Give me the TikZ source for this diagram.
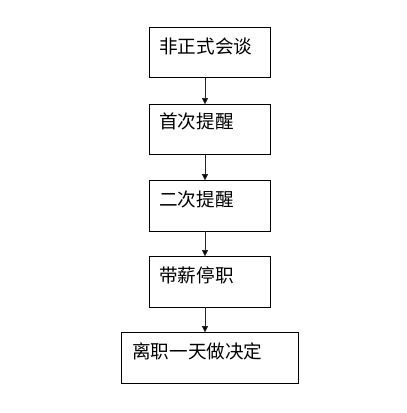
\documentclass[tikz,border=0pt]{standalone}
\usepackage{fontspec}
\newfontfamily\cjk{Noto Sans CJK SC}
\usetikzlibrary{arrows.meta}
\begin{document}
\begin{tikzpicture}[x=1pt,y=-1pt,
  box/.style={draw=black,line width=1pt},
  lbl/.style={anchor=west,inner sep=0pt,font=\cjk\fontsize{18.6}{18.6}\selectfont},
  conn/.style={draw=black!85,line width=0.9pt,-{Triangle[length=6.5pt,width=6pt,fill=black]}}]
\useasboundingbox (0,0) rectangle (407,413);
\draw[box] (149.5,27.5) rectangle (270.5,77.5);
\draw[box] (149.5,104.5) rectangle (270.5,154.5);
\draw[box] (149.5,180.5) rectangle (270.5,231);
\draw[box] (149.5,256.5) rectangle (270.5,307);
\draw[box] (121.5,332.5) rectangle (298,383.5);
\node[lbl] (t1) at (159,46) {非正式会谈};
\node[lbl] (t2) at (159,121) {首次提醒};
\node[lbl] (t3) at (159,199) {二次提醒};
\node[lbl] (t4) at (159,275) {带薪停职};
\node[lbl] (t5) at (132,351) {离职一天做决定};
\coordinate (a1) at (205,77.5);
\coordinate (b1) at (205,104.5);
\coordinate (a2) at (205,154.5);
\coordinate (b2) at (205,180.5);
\coordinate (a3) at (205,231);
\coordinate (b3) at (205,256.5);
\coordinate (a4) at (205,307);
\coordinate (b4) at (205,332.5);
\draw[conn] (a1) -- (b1);
\draw[conn] (a2) -- (b2);
\draw[conn] (a3) -- (b3);
\draw[conn] (a4) -- (b4);
\end{tikzpicture}
\end{document}
